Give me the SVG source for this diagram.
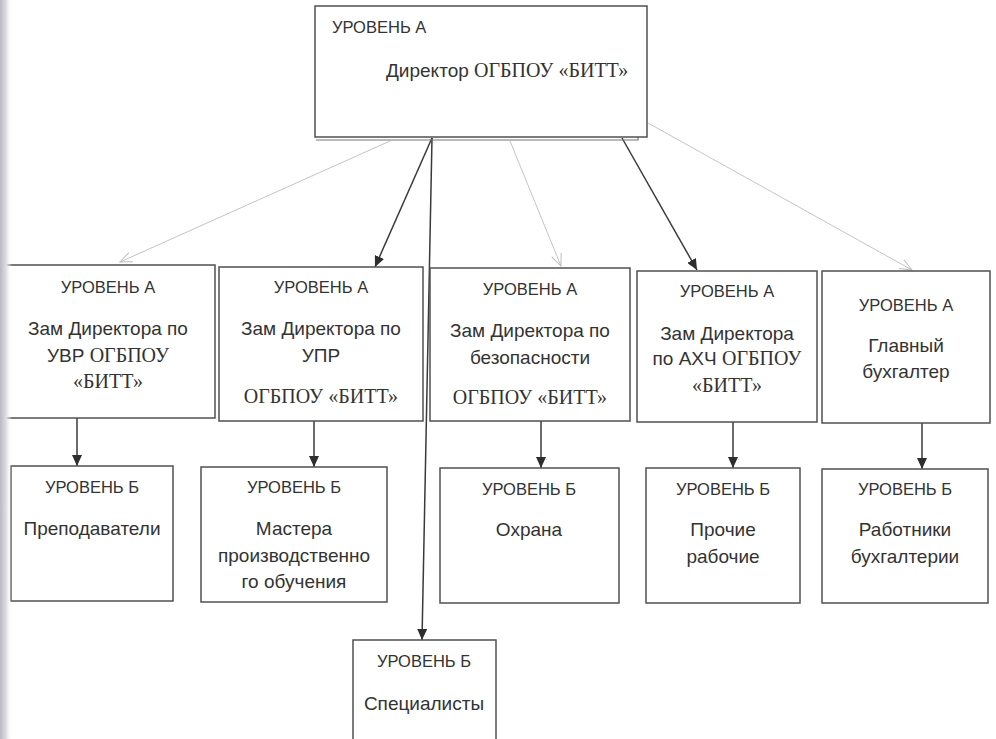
<svg xmlns="http://www.w3.org/2000/svg" width="996" height="739" viewBox="0 0 996 739">
<style>
.box{fill:#fff;stroke:#505050;stroke-width:1.5}
.t{font-family:"Liberation Sans",Arial,sans-serif;fill:#333;text-anchor:middle}
.h{font-size:16.5px}
.b{font-size:19px}
.s{font-family:"Liberation Serif","Times New Roman",serif;font-size:20px}
.dark{stroke:#3a3a3a;stroke-width:1.5;fill:none}
.light{stroke:#c4c4c4;stroke-width:1;fill:none}
</style>
<defs>
<marker id="ah" markerWidth="11" markerHeight="10" refX="11" refY="5" orient="auto" markerUnits="userSpaceOnUse">
<path d="M0,0 L11,5 L0,10 Z" fill="#2e2e2e"/>
</marker>
<marker id="oh" markerWidth="14" markerHeight="12" refX="13" refY="6" orient="auto" markerUnits="userSpaceOnUse">
<path d="M1,1 L13,6 L1,11" fill="none" stroke="#bdbdbd" stroke-width="1"/>
</marker>
<linearGradient id="strip" x1="0" y1="0" x2="1" y2="0">
<stop offset="0" stop-color="#b9b9c0"/>
<stop offset="0.5" stop-color="#dcdce2"/>
<stop offset="1" stop-color="#ffffff" stop-opacity="0"/>
</linearGradient>
</defs>
<rect width="996" height="739" fill="#fff"/>

<g id="connectors">
<line class="light" x1="390" y1="141" x2="120" y2="262" marker-end="url(#oh)"/>
<line class="dark" x1="432" y1="138" x2="375" y2="267" marker-end="url(#ah)"/>
<line class="dark" x1="432" y1="138" x2="422" y2="640" marker-end="url(#ah)"/>
<line class="light" x1="510" y1="141" x2="561" y2="266" marker-end="url(#oh)"/>
<line class="dark" x1="622" y1="138" x2="697" y2="270" marker-end="url(#ah)"/>
<line class="light" x1="648" y1="123" x2="912" y2="270" marker-end="url(#oh)"/>
<line class="dark" x1="77" y1="418" x2="77" y2="466" marker-end="url(#ah)"/>
<line class="dark" x1="314" y1="421" x2="314" y2="467" marker-end="url(#ah)"/>
<line class="dark" x1="541" y1="421" x2="541" y2="468" marker-end="url(#ah)"/>
<line class="dark" x1="733" y1="422" x2="733" y2="468" marker-end="url(#ah)"/>
<line class="dark" x1="922" y1="423" x2="922" y2="469" marker-end="url(#ah)"/>
</g>

<g id="director">
<path d="M316,140 H638 V137" fill="none" stroke="#777" stroke-width="1.2"/>
<rect class="box" x="315" y="6" width="332" height="131"/>
<text class="t h" x="332" y="33" style="text-anchor:start">УРОВЕНЬ  А</text>
<text class="t b" x="386" y="77" style="text-anchor:start">Директор <tspan class="s">ОГБПОУ «БИТТ»</tspan></text>
</g>

<g id="zam-uvr">
<rect class="box" x="2" y="265" width="213" height="153"/>
<text class="t h" x="108" y="293">УРОВЕНЬ А</text>
<text class="t b" x="108" y="335">Зам Директора по</text>
<text class="t b" x="108" y="362">УВР <tspan class="s">ОГБПОУ</tspan></text>
<text class="t s" x="108" y="388">«БИТТ»</text>
</g>

<g id="zam-upr">
<rect class="box" x="219" y="267" width="204" height="154"/>
<text class="t h" x="321" y="293">УРОВЕНЬ А</text>
<text class="t b" x="321" y="335">Зам Директора по</text>
<text class="t b" x="321" y="362">УПР</text>
<text class="t s" x="321" y="403">ОГБПОУ «БИТТ»</text>
</g>

<g id="zam-bez">
<rect class="box" x="430" y="268" width="200" height="153"/>
<text class="t h" x="530" y="295">УРОВЕНЬ  А</text>
<text class="t b" x="530" y="337">Зам Директора по</text>
<text class="t b" x="530" y="364">безопасности</text>
<text class="t s" x="530" y="404">ОГБПОУ «БИТТ»</text>
</g>

<g id="zam-ahch">
<rect class="box" x="637" y="271" width="180" height="151"/>
<text class="t h" x="727" y="297">УРОВЕНЬ  А</text>
<text class="t b" x="727" y="340">Зам Директора</text>
<text class="t b" x="727" y="365">по АХЧ <tspan class="s">ОГБПОУ</tspan></text>
<text class="t s" x="727" y="392">«БИТТ»</text>
</g>

<g id="glavbuh">
<rect class="box" x="822" y="271" width="168" height="152"/>
<text class="t h" x="906" y="311">УРОВЕНЬ  А</text>
<text class="t b" x="906" y="352">Главный</text>
<text class="t b" x="906" y="378">бухгалтер</text>
</g>

<g id="prepod">
<rect class="box" x="11" y="466" width="162" height="135"/>
<text class="t h" x="92" y="493">УРОВЕНЬ Б</text>
<text class="t b" x="92" y="535">Преподаватели</text>
</g>

<g id="mastera">
<rect class="box" x="201" y="467" width="186" height="135"/>
<text class="t h" x="294" y="493">УРОВЕНЬ Б</text>
<text class="t b" x="294" y="535">Мастера</text>
<text class="t b" x="294" y="562">производственно</text>
<text class="t b" x="294" y="588">го обучения</text>
</g>

<g id="ohrana">
<rect class="box" x="440" y="468" width="179" height="135"/>
<text class="t h" x="529" y="495">УРОВЕНЬ Б</text>
<text class="t b" x="529" y="536">Охрана</text>
</g>

<g id="prochie">
<rect class="box" x="646" y="468" width="154" height="135"/>
<text class="t h" x="723" y="495">УРОВЕНЬ Б</text>
<text class="t b" x="723" y="536">Прочие</text>
<text class="t b" x="723" y="563">рабочие</text>
</g>

<g id="buhgalteria">
<rect class="box" x="822" y="469" width="166" height="134"/>
<text class="t h" x="905" y="495">УРОВЕНЬ Б</text>
<text class="t b" x="905" y="536">Работники</text>
<text class="t b" x="905" y="563">бухгалтерии</text>
</g>

<g id="specialisty">
<rect class="box" x="353" y="640" width="143" height="120"/>
<text class="t h" x="424" y="667">УРОВЕНЬ Б</text>
<text class="t b" x="424" y="710">Специалисты</text>
</g>

<rect x="0" y="0" width="12" height="739" fill="url(#strip)"/>
</svg>
